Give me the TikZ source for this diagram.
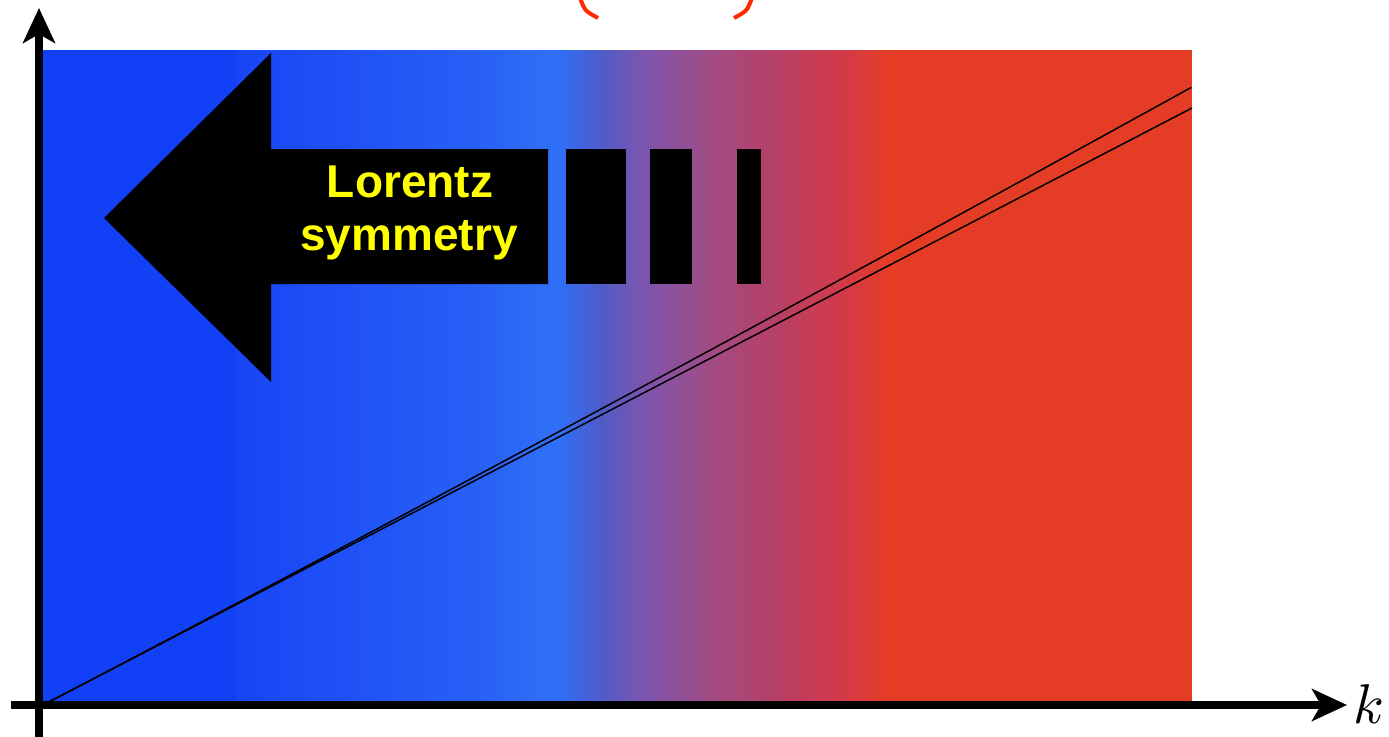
\documentclass[tikz,border=0pt]{standalone}
\usepackage{fontspec}
\newfontfamily\lsans{Liberation Sans}
\usetikzlibrary{arrows.meta}
\definecolor{cA}{HTML}{1240F6}
\definecolor{cB}{HTML}{1945F6}
\definecolor{cC}{HTML}{2860F6}
\definecolor{cD}{HTML}{2F6EF6}
\definecolor{cE}{HTML}{4E5CC8}
\definecolor{cF}{HTML}{7A55B0}
\definecolor{cG}{HTML}{A04C86}
\definecolor{cH}{HTML}{B64067}
\definecolor{cI}{HTML}{D23A4A}
\definecolor{cJ}{HTML}{E53C25}
\definecolor{arcred}{HTML}{FF2A00}
\definecolor{lyellow}{HTML}{FFFF00}
\tikzset{
  axis/.style={line width=8pt, -{Stealth[length=35pt,width=32pt,inset=9pt]}},
  curveline/.style={line width=1.5pt, black},
  blackshape/.style={fill=black, draw=none},
  lbl/.style={text=lyellow, font=\lsans\bfseries\fontsize{46}{53}\selectfont, inner sep=0pt, anchor=base},
  seg/.style 2 args={left color=#1, right color=#2, draw=none}
}
\begin{document}
\begin{tikzpicture}[x=1pt,y=-1pt]
\useasboundingbox (0,0) rectangle (1389,736);
% background gradient
\fill[cA] (43,50) rectangle (236.5,705);
\shade[seg={cB}{cC}] (236,50) rectangle (480.5,705);
\shade[seg={cC}{cD}] (480,50) rectangle (543.5,705);
\fill[cD] (543,50) rectangle (560.5,705);
\shade[seg={cD}{cE}] (560,50) rectangle (600.5,705);
\shade[seg={cE}{cF}] (600,50) rectangle (640.5,705);
\shade[seg={cF}{cG}] (640,50) rectangle (707.5,705);
\shade[seg={cG}{cH}] (707,50) rectangle (773.5,705);
\shade[seg={cH}{cI}] (773,50) rectangle (840.5,705);
\shade[seg={cI}{cJ}] (840,50) rectangle (890.5,705);
\fill[cJ] (890,50) rectangle (1192,705);
% red arcs at top
\draw[arcred, line width=4pt] (580,-2) .. controls (585,11) .. (598,18);
\draw[arcred, line width=4pt] (752,-2) .. controls (747,11) .. (734,18);
% big arrow and blocks
\fill[blackshape] (104,218) -- (271,53) -- (271,149) -- (548,149) -- (548,284) -- (271,284) -- (271,382) -- cycle;
\fill[blackshape] (566,149) rectangle (626,284);
\fill[blackshape] (650,149) rectangle (692,284);
\fill[blackshape] (737,149) rectangle (761,284);
\node[lbl] (t1) at (410,197) {Lorentz};
\node[lbl] (t2) at (409,250) {symmetry};
% dispersion lines
\coordinate (O) at (43,705);
\coordinate (E) at (1192,108);
\draw[curveline] (O) -- (E);
\draw[curveline] plot[domain=0:1, samples=80, smooth] ({43+1149*\x}, {705-597*\x-21*(0.5*\x*\x+0.5*\x*sqrt(\x))});
% axes
\coordinate (yb) at (39,740);
\coordinate (yt) at (39,8);
\coordinate (xb) at (11,705);
\coordinate (xt) at (1347,705);
\draw[axis] (yb) -- (yt);
\draw[axis] (xb) -- (xt);
\node[scale=5.6, inner sep=0pt, anchor=base] (k) at (1369,723) {$k$};
\end{tikzpicture}
\end{document}
